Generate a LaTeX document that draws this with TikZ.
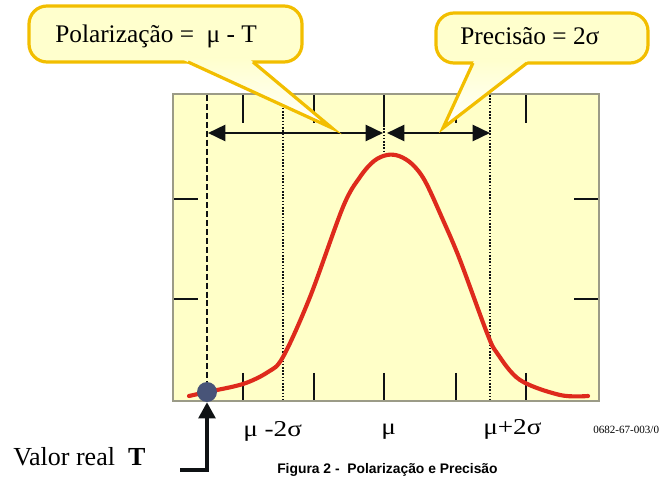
\documentclass[tikz,border=0pt]{standalone}
\usepackage{fontspec}
\usepackage{graphicx}
\setmainfont{Liberation Serif}
\newfontfamily\arialfont{Liberation Sans}
\usetikzlibrary{arrows.meta,calc}
\definecolor{boxfill}{RGB}{255,255,200}
\definecolor{boxline}{RGB}{155,155,135}
\definecolor{callline}{RGB}{242,190,0}
\definecolor{callfill}{RGB}{255,255,205}
\definecolor{curvered}{RGB}{222,42,28}
\definecolor{dotblue}{RGB}{72,84,120}
\definecolor{ink}{RGB}{15,18,20}
\begin{document}
\begin{tikzpicture}[x=0.75pt,y=-0.75pt,
  tickline/.style={line width=1.9pt,draw=ink},
  dashedline/.style={line width=2pt,draw=ink,dash pattern=on 4.5pt off 2.2pt},
  dottedline/.style={line width=1.8pt,draw=ink,dash pattern=on 1.2pt off 1.2pt},
  dimarrow/.style={line width=1.9pt,draw=ink,{Triangle[length=13pt,width=12pt]}-{Triangle[length=13pt,width=12pt]}},
  calloutbody/.style={draw=callline,line width=2.4pt,fill=callfill,rounded corners=13.5pt},
  calloutptr/.style={top color=callfill,bottom color=white},
  calloutedge/.style={draw=callline,line width=2.4pt,line join=miter},
  txt/.style={anchor=base west,inner sep=0pt},
  serifbig/.style={txt,font=\fontsize{19}{22}\selectfont},
  axislabel/.style={txt,font=\fontsize{17}{20}\selectfont}
]
\useasboundingbox (0,0) rectangle (662,478);

% chart box
\fill[boxfill] (173,94) rectangle (599,401);

% ticks
\foreach \x in {243,314,526} {
  \draw[tickline] (\x,94) -- (\x,123);
}
\draw[tickline] (456,114) -- (456,123);
\foreach \x in {243,314,384,456,526} {
  \draw[tickline] (\x,373) -- (\x,401);
}
\foreach \y in {199,299} {
  \draw[tickline] (173,\y) -- (198,\y);
  \draw[tickline] (574,\y) -- (599,\y);
}

% vertical reference lines
\coordinate (Ttop) at (207,95);
\coordinate (lotop) at (283,95);
\coordinate (lobot) at (283,400);
\coordinate (hitop) at (490,95);
\coordinate (hibot) at (490,400);
\coordinate (mutop) at (384,94);
\coordinate (mumid) at (384,125);
\coordinate (mupeak) at (384,156);
\draw[dottedline] (lotop) -- (lobot);
\draw[dottedline] (hitop) -- (hibot);
\draw[tickline] (mutop) -- (mumid);
\draw[dottedline] (mumid) -- (mupeak);

% frame
\draw[boxline,line width=2.2pt] (173,94) rectangle (599,401);

% curve
\draw[curvered,line width=3.1pt,line join=round,line cap=round]
  plot[smooth,tension=0.55] coordinates {(189,396) (207,392) (243,384) (268,372) (283,357) (310,297) (343,207) (360,177) (374,161) (387,155) (399,156) (412,164) (425,181) (443,220) (460,260) (487,333) (497,353) (520,380) (560,395) (588,396)};

% true value dot and dashed line
\node[circle,fill=dotblue,minimum size=15pt,inner sep=0pt] (dot) at (207,392) {};
\draw[dashedline] (Ttop) -- (dot.north);

% dimension arrows
\coordinate (aL) at (208,133);
\coordinate (aM1) at (383,133);
\coordinate (aM2) at (387,133);
\coordinate (aR) at (490,133);
\draw[dimarrow] (aL) -- (aM1);
\draw[dimarrow] (aM2) -- (aR);

% arrow to true value
\coordinate (vrc) at (180,470);
\draw[ink,line width=2.4pt,-{Triangle[length=12pt,width=12.5pt]}] (vrc) -| (dot.south);

% callouts
\coordinate (ptipL) at (332,128);
\coordinate (ptipR) at (443,128);
\draw[calloutbody] (29,6) rectangle (302,62);
\shade[calloutptr] (179.3,58) -- (ptipL) -- (248.2,58) -- cycle;
\draw[calloutedge] (188,62) -- (ptipL) -- (253,62);
\draw[calloutbody] (436,13) rectangle (648,63);
\shade[calloutptr] (474.8,59) -- (ptipR) -- (530.3,59) -- cycle;
\draw[calloutedge] (473,63) -- (ptipR) -- (527,63);

% texts
\node[serifbig] (poltxt) at (55,43) {Polarização =\ \ μ - T};
\node[serifbig] (pretxt) at (460,45) {Precisão = 2σ};
\node[axislabel] (lm2) at (243,436) {\scalebox{1.2}[1]{μ -2σ}};
\node[axislabel] (lmu) at (381,435) {\scalebox{1.2}[1]{μ}};
\node[axislabel] (lp2) at (483,435) {\scalebox{1.2}[1]{μ+2σ}};
\node[txt,font=\fontsize{8.3}{10}\selectfont] (code) at (593,433) {0682-67-003/0};
\node[txt,font=\fontsize{19.5}{22}\selectfont] (vr) at (13,465) {Valor real\ \ \textbf{T}};
\node[txt,font=\arialfont\bfseries\fontsize{10.4}{12}\selectfont] (fig) at (277,474) {Figura 2 -\ \ Polarização e Precisão};
\end{tikzpicture}
\end{document}
